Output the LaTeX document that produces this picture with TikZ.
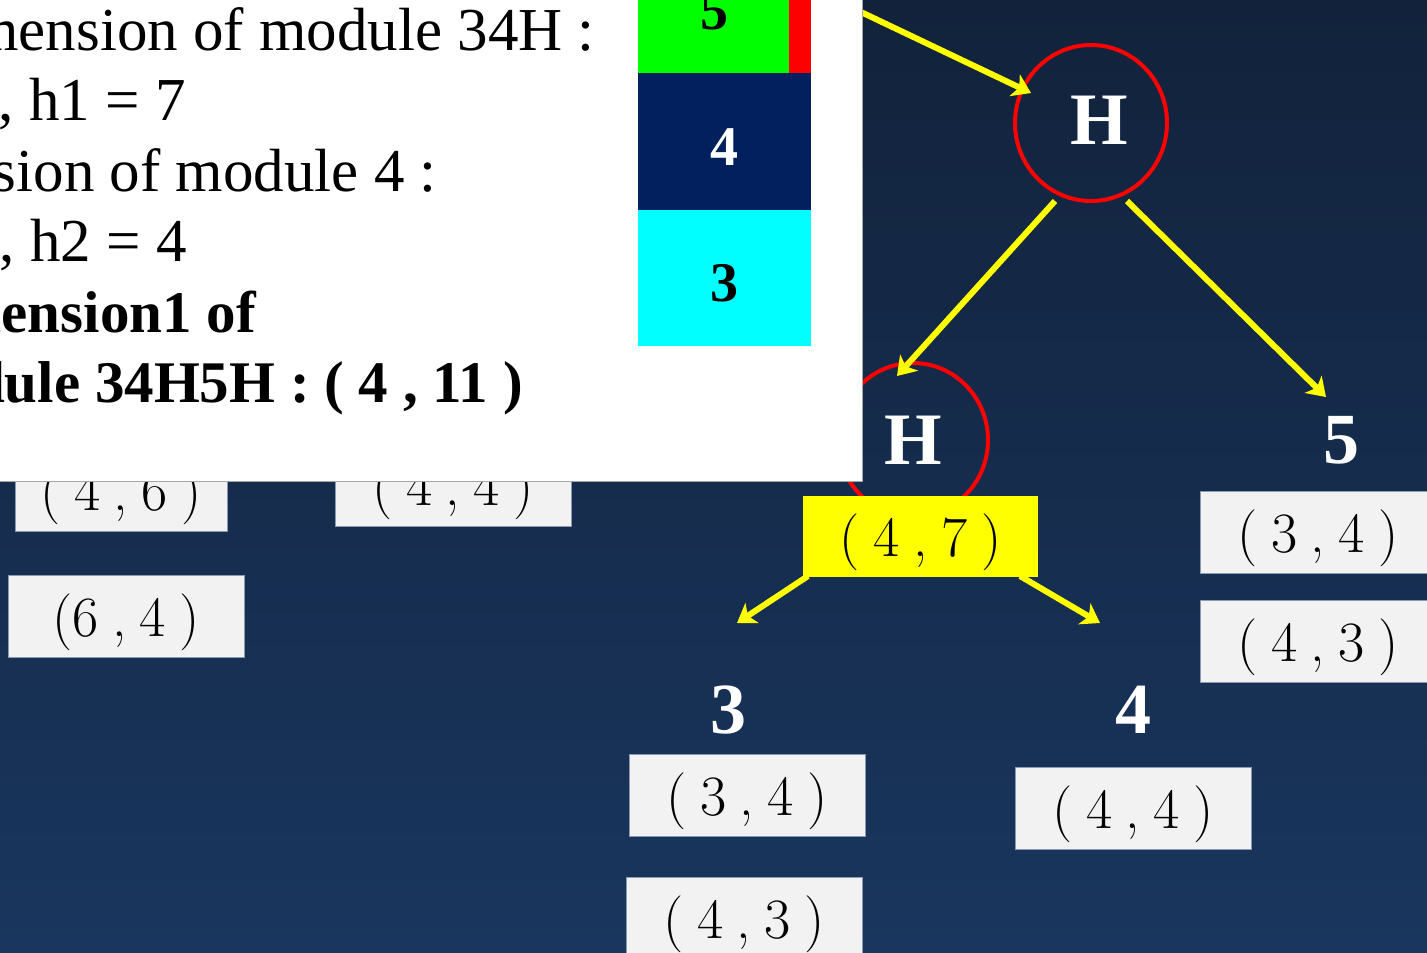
\documentclass[tikz,border=0pt]{standalone}
\usepackage{fontspec}
\newfontfamily\tnr{Liberation Serif}
\usetikzlibrary{arrows.meta,shapes.geometric}
\definecolor{bgtop}{HTML}{12223B}
\definecolor{bgbot}{HTML}{19365E}
\definecolor{boxgray}{HTML}{F2F2F2}
\definecolor{boxline}{HTML}{8A9AB0}
\definecolor{navyblk}{HTML}{02205E}
\definecolor{ylw}{HTML}{FFFF00}
\definecolor{cyanblk}{HTML}{00FFFF}
\definecolor{greenblk}{HTML}{00FF00}
\newcommand{\gp}{\hspace{0.24em}}
\newcommand{\pair}[2]{(\gp#1\gp,\gp#2\gp)}
\begin{document}
\begin{tikzpicture}[x=1pt,y=-1pt,
  pbox/.style={draw=boxline, line width=1pt, fill=boxgray, minimum width=236pt, minimum height=82pt, inner sep=0pt, font=\fontsize{57}{57}\selectfont},
  ringnode/.style={ellipse, draw=red, line width=4pt, minimum width=152pt, minimum height=156pt, inner sep=0pt},
  treelbl/.style={text=white, inner sep=0pt, font=\tnr\bfseries\fontsize{74}{74}\selectfont},
  arr/.style={draw=ylw, line width=6pt, -{Stealth[length=18pt,width=24pt,inset=5pt]}},
  paneltxt/.style={anchor=base east, inner sep=0pt, font=\tnr\fontsize{61}{61}\selectfont},
  boldtxt/.style={paneltxt, font=\tnr\bfseries\fontsize{59}{59}\selectfont},
  blk/.style={inner sep=0pt, font=\tnr\bfseries\fontsize{56}{56}\selectfont},
  ptxt/.style={inner sep=0pt, font=\fontsize{57}{57}\selectfont}
]
\useasboundingbox (0,0) rectangle (1427,953);
\clip (0,0) rectangle (1427,953);
% background
\shade[top color=bgtop, bottom color=bgbot] (0,0) rectangle (1427,953);
% circles
\node[ringnode] (Htop) at (1091,123) {};
\node[ringnode, minimum width=150pt, minimum height=154pt] (Hlow) at (913,440) {};
% gray boxes
\node[pbox, minimum width=212pt] (b46) at (121,490) {};
\node[ptxt] (t46) at (121,496) {\pair{4}{6}};
\node[pbox] (b44a) at (453,485) {};
\node[ptxt] (t44a) at (453,491) {\pair{4}{4}};
\node[pbox] (b64) at (126,616) {};
\node[ptxt] (t64) at (126,622) {(6\gp,\gp4\gp)};
\node[pbox] (b34a) at (747,795) {};
\node[ptxt] (t34a) at (747,801) {\pair{3}{4}};
\node[pbox] (b43a) at (744,918) {};
\node[ptxt] (t43a) at (744,924) {\pair{4}{3}};
\node[pbox] (b44b) at (1133,808) {};
\node[ptxt] (t44b) at (1133,814) {\pair{4}{4}};
\node[pbox] (b34b) at (1318,532) {};
\node[ptxt] (t34b) at (1318,538) {\pair{3}{4}};
\node[pbox] (b43b) at (1318,641) {};
\node[ptxt] (t43b) at (1318,647) {\pair{4}{3}};
% yellow box
\node[pbox, draw=none, fill=ylw, minimum width=235pt, minimum height=81pt] (y47) at (920.5,536.5) {};
\node[ptxt] (t47) at (920.5,542) {\pair{4}{7}};
% coordinates for connector ends
\coordinate (src) at (800,-17);
\coordinate (t1) at (1031,93);
\coordinate (s2) at (1055,201);
\coordinate (t2) at (897,376);
\coordinate (s3) at (1127,201);
\coordinate (t3) at (1326,397);
\coordinate (s4) at (808,576);
\coordinate (t4) at (737,623);
\coordinate (s5) at (1020,576);
\coordinate (t5) at (1100,623);
% arrows
\draw[arr] (src) -- (t1);
\draw[arr] (s2) -- (t2);
\draw[arr] (s3) -- (t3);
\draw[arr] (s4) -- (t4);
\draw[arr] (s5) -- (t5);
% tree labels
\node[treelbl] (lH1) at (1099,120) {H};
\node[treelbl] (lH2) at (913,440) {H};
\node[treelbl, font=\tnr\bfseries\fontsize{72}{72}\selectfont] (l5) at (1341,440) {5};
\node[treelbl, font=\tnr\bfseries\fontsize{72}{72}\selectfont] (l3) at (728,710) {3};
\node[treelbl, font=\tnr\bfseries\fontsize{72}{72}\selectfont] (l4) at (1133,710) {4};
% white panel
\fill[white] (0,-5) rectangle (862,481);
\draw[gray!70, line width=1pt] (862,-5) -- (862,481) -- (-5,481);
% colour stack
\fill[greenblk] (638,-5) rectangle (789,73);
\fill[red] (789,-5) rectangle (811,73);
\fill[navyblk] (638,73) rectangle (811,210);
\fill[cyanblk] (638,210) rectangle (811,346);
\node[blk] (c5) at (714,11) {5};
\node[blk, text=white] (c4) at (724,147) {4};
\node[blk] (c3) at (724,283) {3};
% panel text
\node[paneltxt] (p1) at (595,50) {Dimension of module 34H :};
\node[paneltxt] (p2) at (186,120) {, h1 = 7};
\node[paneltxt] (p3) at (437,191) {Dimension of module 4 :};
\node[paneltxt] (p4) at (187,261) {, h2 = 4};
\node[boldtxt] (p5) at (256,332) {Dimension1 of};
\node[boldtxt] (p6) at (523,402) {module 34H5H : ( 4 , 11 )};
\end{tikzpicture}
\end{document}
